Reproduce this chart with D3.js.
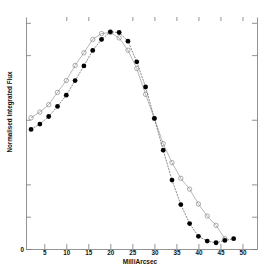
<!DOCTYPE html>
<html>
<head>
<meta charset="utf-8">
<script src="https://cdn.jsdelivr.net/npm/d3@7"></script>
<style>
  body { margin: 0; background: #fff; }
  svg { display: block; font-family: "Liberation Sans", Arial, Helvetica, sans-serif; }
</style>
</head>
<body>
<svg id="chart" width="263" height="273"></svg>
<script>
// offsets along the source, in milliarcsec
const offsets = [2, 4, 6, 8, 10, 12, 14, 16, 18, 20, 22, 24, 26, 28, 30, 32, 34, 36, 38, 40, 42, 44, 46, 48]

// normalised flux, filled markers
const fluxFilled = [0.555, 0.580, 0.615, 0.662, 0.714, 0.782, 0.850, 0.922, 0.973, 1.008, 1.005, 0.965,
  0.869, 0.752, 0.606, 0.459, 0.320, 0.206, 0.118, 0.059, 0.037, 0.029, 0.040, 0.048]

// normalised flux, open markers (no point at 48)
const fluxOpen = [0.609, 0.636, 0.670, 0.727, 0.782, 0.852, 0.911, 0.973, 1.000, 1.005, 0.980, 0.923,
  0.838, 0.718, 0.606, 0.489, 0.401, 0.328, 0.278, 0.209, 0.153, 0.110, 0.048]

const xTicks = [5, 10, 15, 20, 25, 30, 35, 40, 45, 50]
const xTicksTop = [10, 15, 25, 30, 35, 40, 45, 50]
const yTicks = [0, 0.15, 0.3, 0.6, 0.9, 1.05]

const filled = offsets.map((x, i) => ({ x, y: fluxFilled[i] }))
const open = offsets.slice(0, fluxOpen.length).map((x, i) => ({ x, y: fluxOpen[i] }))

const svg = d3.select('#chart')
const axisColor = '#777'

const x = d3.scaleLinear().domain([0.85, 53.3]).range([26, 257])
const y = d3.scaleLinear().domain([0, 1.077]).range([249, 17])

// axes
const gBottom = svg.append('g')
  .attr('transform', `translate(0,${y(0)})`)
  .call(d3.axisBottom(x).tickValues(xTicks).tickSizeInner(-5).tickSizeOuter(0).tickPadding(2))

const gTop = svg.append('g')
  .attr('transform', `translate(0,${y.range()[1]})`)
  .call(d3.axisTop(x).tickValues(xTicksTop).tickSizeInner(-4).tickSizeOuter(0).tickFormat(''))
gTop.select('.domain').remove()

const gLeft = svg.append('g')
  .attr('transform', `translate(${x.range()[0]},0)`)
  .call(d3.axisLeft(y).tickValues(yTicks).tickSizeInner(-5).tickSizeOuter(0).tickPadding(2)
    .tickFormat((d) => (d === 0 ? '0' : '')))

const gRight = svg.append('g')
  .attr('transform', `translate(${x.range()[1]},0)`)
  .call(d3.axisRight(y).tickValues(yTicks).tickSizeInner(-5).tickSizeOuter(0).tickFormat(''))

svg.selectAll('.domain, .tick line').attr('stroke', axisColor).attr('stroke-width', 0.8)
svg.selectAll('.tick text')
  .attr('font-size', 6.3)
  .attr('font-weight', 'bold')
  .attr('font-family', '"Liberation Sans", Arial, sans-serif')
  .attr('fill', '#111')

// axis titles
svg.append('text')
  .attr('x', 140)
  .attr('y', 263.5)
  .attr('text-anchor', 'middle')
  .attr('font-size', 6.5)
  .attr('font-weight', 'bold')
  .attr('fill', '#111')
  .text('MilliArcsec')

svg.append('text')
  .attr('transform', 'translate(12,112) rotate(-90)')
  .attr('text-anchor', 'middle')
  .attr('font-size', 6.3)
  .attr('font-weight', 'bold')
  .attr('fill', '#111')
  .text('Normalised Integrated Flux')

// lines
const line = d3.line().x((d) => x(d.x)).y((d) => y(d.y))

svg.append('path')
  .datum(open)
  .attr('d', line)
  .attr('fill', 'none')
  .attr('stroke', '#999')
  .attr('stroke-width', 0.7)

svg.append('path')
  .datum(filled)
  .attr('d', line)
  .attr('fill', 'none')
  .attr('stroke', '#555')
  .attr('stroke-width', 0.7)
  .attr('stroke-dasharray', '2,1')

// markers
svg.append('g')
  .selectAll('circle')
  .data(open)
  .join('circle')
  .attr('cx', (d) => x(d.x))
  .attr('cy', (d) => y(d.y))
  .attr('r', 2.2)
  .attr('fill', 'none')
  .attr('stroke', '#777')
  .attr('stroke-width', 0.6)

svg.append('g')
  .selectAll('circle')
  .data(filled)
  .join('circle')
  .attr('cx', (d) => x(d.x))
  .attr('cy', (d) => y(d.y))
  .attr('r', 2.4)
  .attr('fill', '#000')
</script>
</body>
</html>
